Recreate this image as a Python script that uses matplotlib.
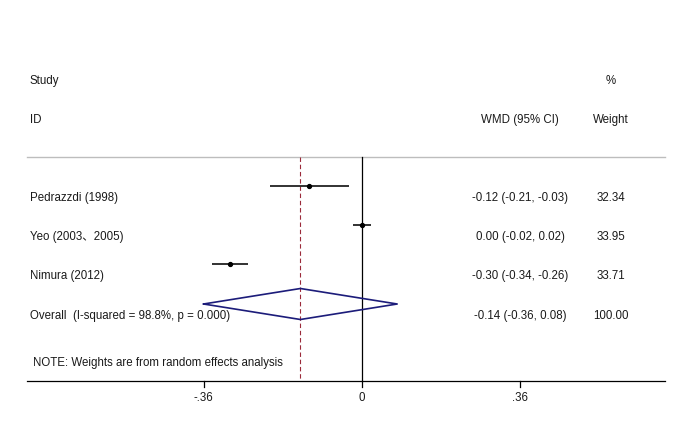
import matplotlib
matplotlib.use("Agg")
import matplotlib.pyplot as plt

studies = ["Pedrazzdi (1998)", "Yeo (2003\u30012005)", "Nimura (2012)"]
wmd = [-0.12, 0.00, -0.30]
ci_low = [-0.21, -0.02, -0.34]
ci_high = [-0.03, 0.02, -0.26]
weights = ["32.34", "33.95", "33.71"]

overall_label = "Overall  (I-squared = 98.8%, p = 0.000)"
overall_wmd = -0.14
overall_low = -0.36
overall_high = 0.08
overall_weight = "100.00"

tick_vals = [-0.36, 0, 0.36]
tick_labels = ["-.36", "0", ".36"]

plt.rcParams['font.family'] = ['Liberation Sans', 'Noto Sans CJK SC', 'DejaVu Sans']
fs = 8.3
tc = '#1a1a1a'

fig = plt.figure(figsize=(6.85, 4.36), dpi=100)
ax = fig.add_axes([0, 0, 1, 1])
ax.axis('off')
# x in effect units (0 at pixel 362, 440 px per unit), y in pixels from top
px = 440.0
ax.set_xlim(-362 / px, (685 - 362) / px)
ax.set_ylim(436, 0)

def xp(p):
    return (p - 362) / px

x_left, x_right = xp(27), xp(665)
x_text = xp(30)
x_ci = xp(520)
x_wt = xp(611)
dy = 12  # text sits a bit below its marker row

# header
ax.text(x_text, 81, "Study", fontsize=fs, va='center', ha='left', color=tc)
ax.text(x_text, 120, "ID", fontsize=fs, va='center', ha='left', color=tc)
ax.text(x_wt, 81, "%", fontsize=fs, va='center', ha='center', color=tc)
ax.text(x_ci, 120, "WMD (95% CI)", fontsize=fs, va='center', ha='center', color=tc)
ax.text(x_wt, 120, "Weight", fontsize=fs, va='center', ha='center', color=tc)
ax.plot([x_left, x_right], [157, 157], color='#bdbdbd', lw=1.0)

y_top, y_axis = 157, 381
# reference lines
ax.plot([0, 0], [y_top, y_axis], color='black', lw=0.9)
ax.plot([overall_wmd, overall_wmd], [y_top, y_axis], color='#9b2a3a',
        lw=0.8, ls=(0, (4, 2.5)))

# studies
row_y = [186 + 39 * i for i in range(len(studies))]
for name, m, lo, hi, w, y in zip(studies, wmd, ci_low, ci_high, weights, row_y):
    ax.plot([lo, hi], [y, y], color='#222222', lw=1.3, solid_capstyle='butt')
    ax.plot([m], [y], 'o', color='black', ms=2.8)
    ax.text(x_text, y + dy, name, fontsize=fs, va='center', ha='left', color=tc)
    ax.text(x_ci, y + dy, f"{m:.2f} ({lo:.2f}, {hi:.2f})", fontsize=fs,
            va='center', ha='center', color=tc)
    ax.text(x_wt, y + dy, w, fontsize=fs, va='center', ha='center', color=tc)

# overall diamond
yo = 186 + 39 * len(studies) + 1
ax.plot([overall_low, overall_wmd, overall_high, overall_wmd, overall_low],
        [yo, yo - 15.5, yo, yo + 15.5, yo], color='#1c1c7a', lw=1.2)
ax.text(x_text, yo + dy, overall_label, fontsize=fs, va='center', ha='left', color=tc)
ax.text(x_ci, yo + dy, f"{overall_wmd:.2f} ({overall_low:.2f}, {overall_high:.2f})",
        fontsize=fs, va='center', ha='center', color=tc)
ax.text(x_wt, yo + dy, overall_weight, fontsize=fs, va='center', ha='center', color=tc)

ax.text(xp(33), 363, "NOTE: Weights are from random effects analysis",
        fontsize=fs, va='center', ha='left', color=tc)

# x axis
ax.plot([x_left, x_right], [y_axis, y_axis], color='black', lw=0.9)
for v, lab in zip(tick_vals, tick_labels):
    ax.plot([v, v], [y_axis, y_axis + 6], color='black', lw=0.9)
    ax.text(v, 398, lab, fontsize=fs, va='center', ha='center', color=tc)

fig.savefig("out.png", dpi=100)
